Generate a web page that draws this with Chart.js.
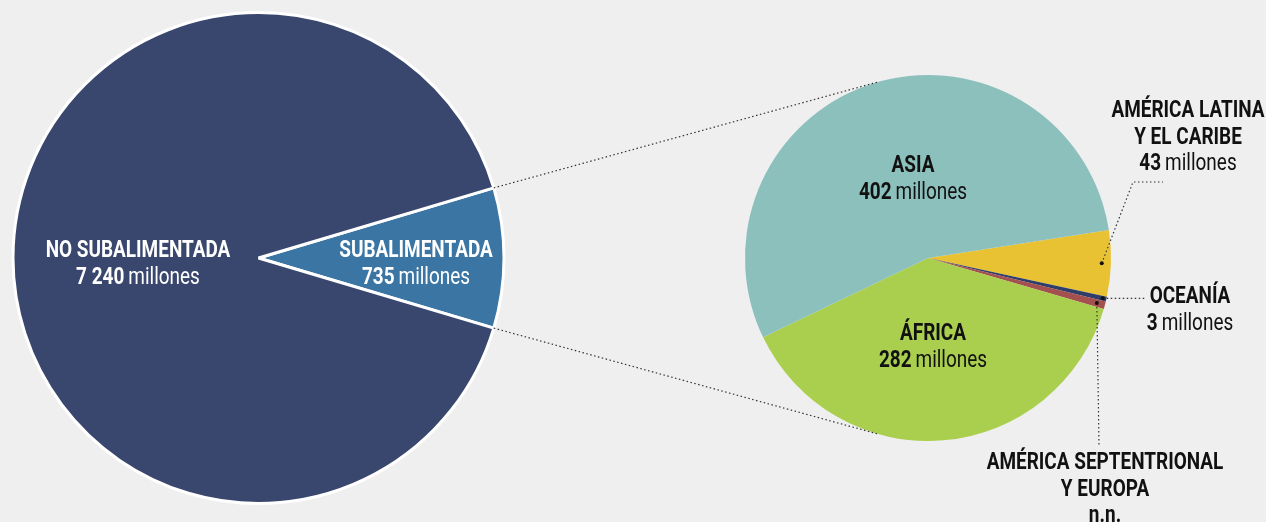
<!DOCTYPE html>
<html lang="es">
<head>
<meta charset="utf-8">
<title>Subalimentación en el mundo</title>
<script src="https://cdn.jsdelivr.net/npm/chart.js@4.4.1/dist/chart.umd.min.js"></script>
<style>
    html, body { margin: 0; padding: 0; background: #efefef; }
    #wrap { position: relative; width: 1266px; height: 522px; overflow: hidden; }
    #wrap canvas { position: absolute; left: 0; top: 0; }
</style>
</head>
<body>
<div id="wrap">
    <canvas id="total-chart" width="1266" height="522"></canvas>
    <canvas id="region-chart" width="1266" height="522"></canvas>
</div>
<script>
// data
const totalLabels = ["SUBALIMENTADA", "NO SUBALIMENTADA"];
const totalValues = [735, 7240];
const totalValueText = ["735", "7 240"];

const regionLabels = [
    "AMÉRICA LATINA Y EL CARIBE",
    "OCEANÍA",
    "AMÉRICA SEPTENTRIONAL Y EUROPA",
    "ÁFRICA",
    "ASIA",
];
const regionValues = [43, 3, 5, 282, 402]; // n.n. read as the rest of 735
const regionValueText = ["43", "3", "n.n.", "282", "402"];

// styles
const FONT = 'Roboto, "DejaVu Sans", sans-serif';
const SIZE = 24;
const SX = 0.79; // condensed look
const LINE_H = 26.5;
const totalColors = ["#3b75a3", "#39466d"];
const regionColors = ["#e8c233", "#2f3d6a", "#a4504e", "#aacf4e", "#8cc0bd"];

// label anchors (first line centre)
const totalLabelPos = [{ x: 416, y: 251 }, { x: 138, y: 251 }];
const regionLabelPos = [
    { x: 1188, y: 111 },
    { x: 1190, y: 297 },
    { x: 1105, y: 463 },
    { x: 933, y: 334 },
    { x: 913, y: 166 },
];
// leader lines for the thin slices: dot at r * outerRadius, then path
const leaders = [
    { index: 0, r: 0.95, path: [[1133, 182], [1163, 182]] },
    { index: 1, r: 0.98, path: [[1146, null]] },
    { index: 2, r: 0.955, path: [[1099, 446]] },
];

const splitLines = (label) => label.replace(" Y ", "\nY ").split("\n");

const drawLine = (ctx, x, y, bold, regular, color) => {
    ctx.font = `bold ${SIZE}px ${FONT}`;
    const wb = ctx.measureText(bold).width * SX;
    let wr = 0;
    let gap = 0;
    if (regular) {
        ctx.font = `${SIZE}px ${FONT}`;
        wr = ctx.measureText(regular).width * SX;
        gap = 4;
    }
    const x0 = x - (wb + gap + wr) / 2;
    ctx.save();
    ctx.fillStyle = color;
    ctx.textAlign = "left";
    ctx.textBaseline = "middle";
    ctx.translate(x0, y);
    ctx.scale(SX, 1);
    ctx.font = `bold ${SIZE}px ${FONT}`;
    ctx.fillText(bold, 0, 0);
    if (regular) {
        ctx.font = `${SIZE}px ${FONT}`;
        ctx.fillText(regular, (wb + gap) / SX, 0);
    }
    ctx.restore();
};

const drawLabel = (ctx, pos, label, valueText, color) => {
    const lines = splitLines(label);
    lines.forEach((line, i) => drawLine(ctx, pos.x, pos.y + i * LINE_H, line, "", color));
    const y = pos.y + lines.length * LINE_H;
    if (valueText === "n.n.") {
        drawLine(ctx, pos.x, y, valueText, "", color);
    } else {
        drawLine(ctx, pos.x, y, valueText, "millones", color);
    }
};

const dotted = (ctx, pts) => {
    ctx.save();
    ctx.strokeStyle = "#333";
    ctx.lineWidth = 1.2;
    ctx.setLineDash([1.5, 2.5]);
    ctx.beginPath();
    ctx.moveTo(pts[0][0], pts[0][1]);
    pts.slice(1).forEach((p) => ctx.lineTo(p[0], p[1]));
    ctx.stroke();
    ctx.restore();
};

const totalLabelsPlugin = {
    id: "totalLabels",
    afterDatasetsDraw(chart) {
        const ctx = chart.ctx;
        totalLabels.forEach((label, i) => {
            drawLabel(ctx, totalLabelPos[i], label, totalValueText[i], "#ffffff");
        });
    },
};

const totalChart = new Chart(document.getElementById("total-chart"), {
    type: "pie",
    data: {
        labels: totalLabels,
        datasets: [{
            data: totalValues,
            backgroundColor: totalColors,
            borderColor: "#ffffff",
            borderWidth: 3,
        }],
    },
    options: {
        responsive: false,
        animation: false,
        rotation: 90 - (totalValues[0] / (totalValues[0] + totalValues[1])) * 180,
        layout: { padding: { left: 10, top: 11, right: 759, bottom: 17 } },
        plugins: { legend: { display: false }, tooltip: { enabled: false } },
    },
    plugins: [totalLabelsPlugin],
});

const regionOverlay = {
    id: "regionOverlay",
    afterDatasetsDraw(chart) {
        const ctx = chart.ctx;

        // zoom lines: from the wedge corners to tangents of the region pie
        const wedge = totalChart.getDatasetMeta(0).data[0]
            .getProps(["x", "y", "startAngle", "endAngle", "outerRadius"], true);
        const pie = chart.getDatasetMeta(0).data[0].getProps(["x", "y", "outerRadius"], true);
        [wedge.startAngle, wedge.endAngle].forEach((a, k) => {
            const px = wedge.x + wedge.outerRadius * Math.cos(a);
            const py = wedge.y + wedge.outerRadius * Math.sin(a);
            const dx = px - pie.x;
            const dy = py - pie.y;
            const d = Math.hypot(dx, dy);
            const base = Math.atan2(dy, dx);
            const off = Math.acos(pie.outerRadius / d);
            const cands = [base + off, base - off].map((t) => [
                pie.x + pie.outerRadius * Math.cos(t),
                pie.y + pie.outerRadius * Math.sin(t),
            ]);
            cands.sort((p, q) => p[1] - q[1]);
            const t = k === 0 ? cands[0] : cands[1];
            dotted(ctx, [[px, py], t]);
        });

        // leader lines for the small slices
        const arcs = chart.getDatasetMeta(0).data;
        leaders.forEach((l) => {
            const a = arcs[l.index].getProps(["x", "y", "startAngle", "endAngle", "outerRadius"], true);
            const mid = (a.startAngle + a.endAngle) / 2;
            const dx = a.x + a.outerRadius * l.r * Math.cos(mid);
            const dy = a.y + a.outerRadius * l.r * Math.sin(mid);
            const pts = [[dx, dy]].concat(l.path.map((p) => [p[0], p[1] === null ? dy : p[1]]));
            dotted(ctx, pts);
            ctx.fillStyle = "#111";
            ctx.beginPath();
            ctx.arc(dx, dy, 2, 0, Math.PI * 2);
            ctx.fill();
        });

        regionLabels.forEach((label, i) => {
            drawLabel(ctx, regionLabelPos[i], label, regionValueText[i], "#111111");
        });
    },
};

new Chart(document.getElementById("region-chart"), {
    type: "pie",
    data: {
        labels: regionLabels,
        datasets: [{
            data: regionValues,
            backgroundColor: regionColors,
            borderWidth: 0,
        }],
    },
    options: {
        responsive: false,
        animation: false,
        rotation: 81.2,
        layout: { padding: { left: 745, top: 75, right: 155, bottom: 81 } },
        plugins: { legend: { display: false }, tooltip: { enabled: false } },
    },
    plugins: [regionOverlay],
});
</script>
</body>
</html>
